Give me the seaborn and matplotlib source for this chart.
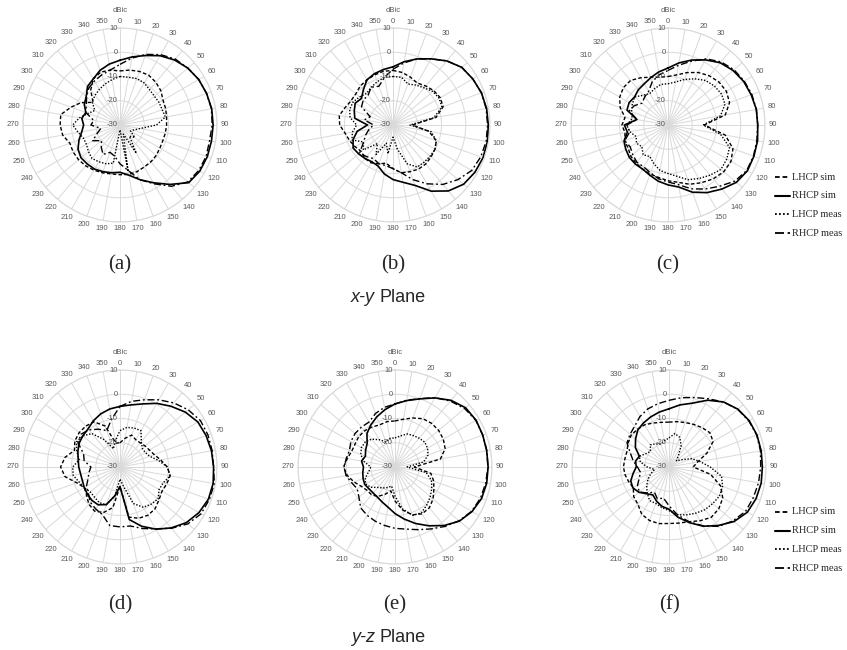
import numpy as np
import pandas as pd
import matplotlib
matplotlib.use("Agg")
import matplotlib.pyplot as plt
import seaborn as sns
from matplotlib.lines import Line2D
from matplotlib.transforms import offset_copy

# ---------------- data ----------------
angles_deg = list(range(0, 360, 10))
angle_labels = [str(a) for a in angles_deg]
r_ticks = [-30, -20, -10, 0, 10]
r_tick_labels = ["-30", "-20", "-10", "0", "10"]
series_names = ["LHCP sim", "RHCP sim", "LHCP meas", "RHCP meas"]
panel_labels = ["(a)", "(b)", "(c)", "(d)", "(e)", "(f)"]
plane_titles = ["x-y", "y-z"]

a_lhcp_sim = [-7.7, -7, -6.5, -6.3, -7, -8, -9.5, -10, -10.5, -10.8, -11, -11.2, -11, -10.5, -10.2, -10, -9.5, -9.3,
              -9.5, -9.5, -9, -8.5, -8, -7.7, -7.7, -8, -6, -5.3, -5.2, -8.5, -11.5, -15.5, -11.2, -8, -6.8, -7]
a_rhcp_sim = [-3.3, -1.5, 0.5, 3, 5, 6.5, 7.5, 8, 8.4, 8.4, 8.3, 8.3, 8, 7, 2, -2.5, -6, -9,
              -10.5, -10, -9.5, -9, -9, -9, -10, -12, -14, -15, -14, -15, -13, -11.8, -9.2, -8, -6, -4.5]
a_lhcp_meas = [-10, -10, -9.6, -10, -11, -11.5, -11.4, -11.5, -11, -15, -21.6, -24, -25, -22, -24, -16.5, -26, -10.5,
               -28, -14, -13, -12.5, -12, -13, -14, -14, -12.5, -10.5, -13, -16, -18, -15, -14, -13, -12, -11]
a_rhcp_meas = [-5, -2, 1, 3.5, 5.5, 6.5, 7.5, 8, 8.3, 8, 7.5, 7.8, 7.5, 6.5, 3, -2, -6, -11,
               -14, -17, -18, -16, -18, -20, -17, -20, -22, -18, -19, -15, -14, -12, -10, -9, -8, -7]

b_lhcp_sim = [-7.5, -8, -9, -10, -9, -8, -7.5, -8, -12, -22, -15, -11, -10, -9.5, -9, -9, -9.5, -10,
              -12, -14, -13, -12, -12, -13, -12, -11, -10, -8, -7.5, -9, -10, -10, -9, -8.5, -8, -7.5]
b_rhcp_sim = [-6, -3.5, -1, 1.5, 4.5, 7, 8, 8.8, 9.2, 9.3, 9.5, 9.5, 9, 8, 5.5, 1.5, -3.5, -6,
              -7.5, -9.5, -12, -12.5, -12, -11.5, -11, -12.5, -15, -19.5, -14, -13, -12, -13, -11, -8.5, -7.5, -6.8]
b_lhcp_meas = [-10, -10, -12, -11, -10, -8.5, -8, -8.5, -13, -23, -14, -11, -10, -10, -10, -10, -13, -20,
               -25, -18, -22, -16, -20, -14, -16, -12, -13, -15, -12, -11, -11, -12, -13, -12, -11, -10]
b_rhcp_meas = [-7, -4, -1, 1.5, 4.5, 7, 8, 8.8, 9, 9, 9, 8.5, 7.5, 5, 2, -2, -6, -10,
               -12, -13, -13, -14, -13, -12, -16, -18, -20, -22, -18, -20, -15, -14, -14, -12, -13, -10]

c_lhcp_sim = [-10, -9, -7, -5, -3.5, -2.5, -2.2, -3, -6, -15, -6, -1.5, 0, 0, -1, -2.5, -4, -6,
              -7, -8, -8.5, -9, -9.5, -10, -11, -11, -12, -11, -12, -9, -7, -6, -6, -7.5, -9, -10]
c_rhcp_sim = [-6.5, -4, -1.5, 1, 3.5, 5, 6, 6.5, 7, 7, 7.5, 7.7, 7.8, 6.8, 4.5, 2.2, -0.5, -4,
              -5.3, -6.5, -8, -9, -9, -9.2, -9.9, -10.7, -13, -12, -17, -12, -11.5, -12, -11, -10.4, -9.2, -7.8]
c_lhcp_meas = [-13, -12, -10, -8, -6, -5, -4.5, -5, -8, -15.5, -8, -3, -2, -1.5, -3, -4.5, -6, -8.5,
               -10, -11, -13, -15, -14, -16, -15, -16, -14, -13, -15, -14, -13, -12, -14, -15, -14, -13]
c_rhcp_meas = [-7.5, -5, -2, 1.5, 4, 5.5, 6.3, 6.8, 7, 7, 7.2, 7.5, 7.5, 6, 3, 0.5, -2, -5,
               -6.5, -7.5, -9, -10, -10, -11, -12, -11, -14, -13, -17, -13, -14, -16, -15, -14, -11, -9]

d_lhcp_sim = [-20, -18, -16, -17, -17, -16.5, -16, -15, -13, -10.5, -9, -9.5, -10, -9, -7.5, -7, -7.5, -9,
              -22, -13, -10, -9, -10, -12, -13, -11, -7, -5.5, -7, -10, -8.5, -8, -8, -8.5, -12, -20]
d_rhcp_sim = [-5, -4, -2.3, 0.3, 2.7, 5.2, 7.1, 7.8, 8.3, 8.6, 9, 8.8, 7.6, 5.7, 2.8, -0.4, -4, -8,
              -22, -18, -13.5, -12, -12, -12.5, -13, -13.5, -13.5, -13, -12.5, -11.5, -10.5, -10, -9.5, -8, -6.7, -5.7]
d_lhcp_meas = [-15, -13.4, -12.9, -12.7, -16.3, -18, -18, -17, -14, -10.5, -9, -11, -11.4, -9.5, -10, -10.8, -14, -22,
               -25, -18, -13.4, -13, -13.7, -14, -13, -12, -10.4, -10.5, -12.9, -11, -9.3, -10, -12, -17, -22, -19]
d_rhcp_meas = [-5, -2.5, -0.5, 2, 4.5, 6.7, 8.3, 8.6, 8.6, 8.6, 9.5, 9.2, 8.6, 6.5, 3, -0.5, -3, -5.3,
               -5.3, -5.5, -9, -10, -11, -13, -14, -16, -17, -18, -15, -14, -10, -9, -10, -12, -14, -10]

e_lhcp_sim = [-11, -10, -8.5, -7, -6.5, -6.5, -7, -8, -11, -22, -15, -13, -11.5, -9.5, -8, -7.7, -9, -12,
              -16, -20, -18, -16, -15, -15, -14, -12, -10, -8.8, -10, -11, -11, -10.5, -10.5, -11, -11.5, -11]
e_rhcp_sim = [-4, -2.2, -0.1, 2.9, 5.9, 8, 8.6, 8.5, 8.4, 8.4, 8.4, 8, 6.7, 4.7, 1.5, -2, -5.2, -8.2,
              -10.8, -13.2, -14.6, -15.6, -16, -16, -15.6, -16, -16.5, -17, -16, -17, -16, -15, -12, -10, -8, -6]
e_lhcp_meas = [-18, -17, -15.5, -15, -14.5, -14, -14.5, -15.5, -18, -25, -17, -14, -12.5, -11, -9.6, -8.2, -8.8, -12.5,
               -18, -22, -21, -20, -19, -17, -16, -17, -19, -20, -17, -15, -14, -14, -15, -17, -19, -18]
e_rhcp_meas = [-4, -2, 0, 3, 5.5, 7.5, 8.5, 8.5, 8.5, 8.3, 8, 7.5, 6.5, 4.5, 2, -0.5, -2.5, -4,
               -4.7, -5.5, -6.2, -7, -8, -10.6, -12, -11, -9.5, -9, -9.6, -10, -9, -8.5, -8.5, -8.6, -6.5, -5]

f_lhcp_sim = [-11.5, -11, -10.5, -9.7, -8.8, -8, -9, -13.4, -18, -20, -12.6, -7.4, -4.4, -3.2, -2.9, -4.4, -6, -6.5,
              -6.7, -6.3, -6.5, -7.5, -10, -11, -13, -12.3, -11.6, -11.2, -11.5, -11.5, -10.5, -9.6, -9.7, -9.9, -10.7, -11.3]
f_rhcp_sim = [-6, -4, -2, 1.8, 5, 7.1, 8.2, 8.6, 8.6, 8.5, 8.6, 8.2, 7.3, 5, 1.5, -1.8, -5.6, -9,
              -12.6, -13.5, -15, -16.7, -15.6, -13.8, -12.8, -13.2, -15, -16.5, -16, -17, -14, -12, -10, -9, -8, -7]
f_lhcp_meas = [-18, -16, -17, -20, -24, -26, -24, -20, -17, -13, -8, -6.5, -6, -6.5, -7, -8, -9, -10,
               -12, -13, -14, -14, -16, -18, -20, -22, -24, -21, -18, -17, -19, -20, -18, -19, -20, -19]
f_rhcp_meas = [-2.5, -1, 0.5, 2.5, 5, 7, 8, 8.5, 8.3, 7.8, 7.5, 7, 6.5, 4.5, 2, -2, -6, -10,
               -14, -17, -16, -18, -16, -14, -15, -17, -18, -17, -15, -13, -10, -9, -8, -6, -4.5, -3.5]

panels = [
    (a_lhcp_sim, a_rhcp_sim, a_lhcp_meas, a_rhcp_meas),
    (b_lhcp_sim, b_rhcp_sim, b_lhcp_meas, b_rhcp_meas),
    (c_lhcp_sim, c_rhcp_sim, c_lhcp_meas, c_rhcp_meas),
    (d_lhcp_sim, d_rhcp_sim, d_lhcp_meas, d_rhcp_meas),
    (e_lhcp_sim, e_rhcp_sim, e_lhcp_meas, e_rhcp_meas),
    (f_lhcp_sim, f_rhcp_sim, f_lhcp_meas, f_rhcp_meas),
]

# ---------------- styling ----------------
W, H = 847, 650
R = 97
centers = [(120, 125), (393, 125), (668, 125), (120, 467), (395, 467), (669, 467)]
label_y = [265, 265, 265, 605, 605, 605]
styles = {
    "LHCP sim": dict(ls=(0, (2.6, 1.6)), lw=1.0),
    "RHCP sim": dict(ls="-", lw=1.2),
    "LHCP meas": dict(ls=(0, (1, 1.2)), lw=1.0),
    "RHCP meas": dict(ls=(0, (5, 2, 1.3, 2)), lw=1.0),
}
grid_col = "#d9d9d9"
txt_col = "#595959"
tick_fs = 5.5
px_per_pt = 100 / 72.0

sns.set_theme(style="white")
plt.rcParams["font.family"] = ["Liberation Sans", "DejaVu Sans"]

fig = plt.figure(figsize=(W / 100, H / 100), dpi=100)

for idx, (cx, cy) in enumerate(centers):
    ax = fig.add_axes([(cx - R) / W, 1 - (cy + R) / H, 2 * R / W, 2 * R / H], projection="polar")
    ax.set_theta_zero_location("N")
    ax.set_theta_direction(-1)
    ax.set_ylim(-30, 10)
    ax.set_yticks(r_ticks)
    ax.set_yticklabels([])
    ax.set_xticks(np.deg2rad(angles_deg))
    ax.set_xticklabels([])
    ax.grid(True, color=grid_col, lw=0.7)
    ax.spines["polar"].set_color(grid_col)
    ax.spines["polar"].set_linewidth(0.8)
    ax.set_facecolor("white")

    for name, vals in zip(series_names, panels[idx]):
        th = np.deg2rad(angles_deg + [360])
        rv = list(vals) + [vals[0]]
        df = pd.DataFrame({"theta": th, "value": rv})
        sns.lineplot(data=df, x="theta", y="value", ax=ax, color="black", sort=False,
                     estimator=None, legend=False, **styles[name])
    ax.set_xlabel("")
    ax.set_ylabel("")
    ax.set_ylim(-30, 10)

    # angle labels just outside the outer ring
    dw = 0.55 * tick_fs * px_per_pt
    hh = 0.72 * tick_fs * px_per_pt
    for a, lab in zip(angles_deg, angle_labels):
        t = np.deg2rad(a)
        w = dw * len(lab)
        r_px = R + 4 + abs(np.sin(t)) * w / 2 + abs(np.cos(t)) * hh / 2
        r_dat = -30 + r_px / R * 40
        ax.text(t, r_dat, lab, ha="center", va="center", fontsize=tick_fs, color=txt_col,
                clip_on=False)

    tr = offset_copy(ax.transData, fig=fig, x=-1.5, y=0, units="points")
    for v, lab in zip(r_ticks, r_tick_labels):
        ax.text(0, v, lab, transform=tr, ha="right", va="center", fontsize=tick_fs, color=txt_col)

    fig.text(cx / W, 1 - (cy - R - 18) / H, "dBic", ha="center", va="center", fontsize=tick_fs,
             color=txt_col)
    fig.text(cx / W, 1 - label_y[idx] / H, panel_labels[idx], ha="center", va="center",
             fontsize=15, family="Liberation Serif")

# plane titles
for ty, t in zip([298, 637], plane_titles):
    fig.text(375 / W, 1 - ty / H, t, ha="right", va="center", fontsize=13, style="italic",
             family="Liberation Sans")
    fig.text(379 / W, 1 - ty / H, "Plane", ha="left", va="center", fontsize=13, family="Liberation Sans")

# legends (two blocks)
for y0 in [177, 512]:
    for i, name in enumerate(series_names):
        y = 1 - (y0 + i * 18.7) / H
        st = styles[name]
        fig.add_artist(Line2D([775 / W, 790 / W], [y, y], color="black", ls=st["ls"],
                              lw=st["lw"] + 0.3, transform=fig.transFigure))
        fig.text(792 / W, y, name, ha="left", va="center", fontsize=7.5, family="Liberation Serif")

fig.savefig("out.png", dpi=100, facecolor="white")
